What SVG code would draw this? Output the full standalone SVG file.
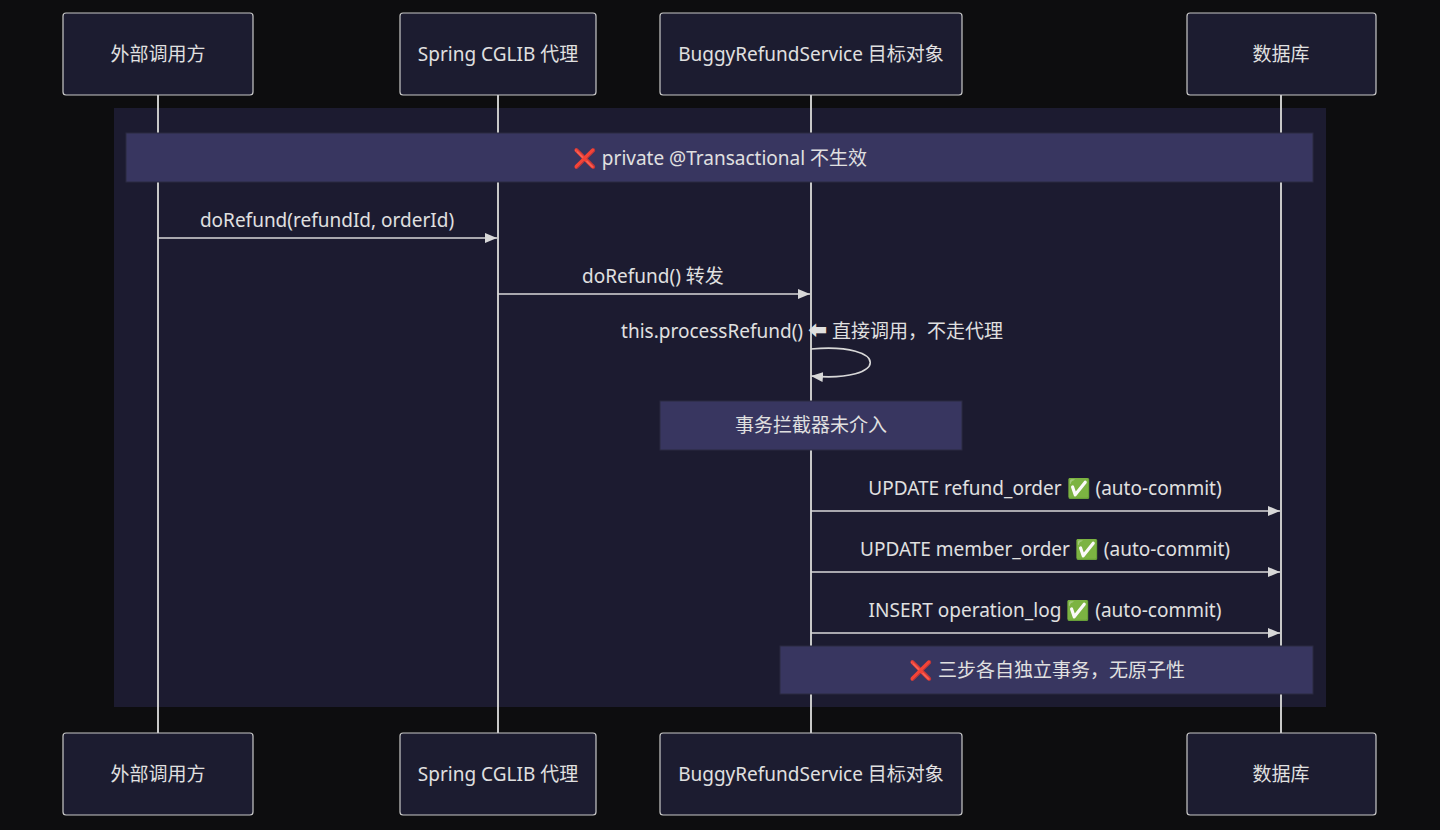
<svg xmlns="http://www.w3.org/2000/svg" width="1440" height="830" viewBox="0 0 1440 830">
<defs>
<marker id="ah" markerWidth="12" markerHeight="10" refX="12" refY="5" orient="auto" markerUnits="userSpaceOnUse"><path d="M0,0 L12,5 L0,10 z" fill="#d8d8d8"/></marker>
<style>
text{font-family:"Noto Sans","Noto Sans CJK SC",sans-serif;fill:#e0e0e0;font-size:19px;text-anchor:middle;dominant-baseline:central}
.actor{fill:#1c1c30;stroke:#c8c8c8;stroke-width:1.2}
.life{stroke:#c8c8c8;stroke-width:2}
.msg{stroke:#d8d8d8;stroke-width:1.6;fill:none}
.note{fill:#383660;stroke:#2a2a40;stroke-width:1}
</style>
</defs>
<rect width="1440" height="830" fill="#0d0d0f"/>
<rect x="114" y="108" width="1212" height="599" fill="#1c1b30"/>
<g id="lifelines">
<line class="life" x1="158" y1="95" x2="158" y2="733"/>
<line class="life" x1="498" y1="95" x2="498" y2="733"/>
<line class="life" x1="811" y1="95" x2="811" y2="733"/>
<line class="life" x1="1281" y1="95" x2="1281" y2="733"/>
</g>
<g id="note1"><rect class="note" x="126" y="133" width="1187" height="49"/><text x="720" y="158">❌ private @Transactional 不生效</text></g>
<g id="connectors">
<line class="msg" x1="158" y1="238" x2="497" y2="238" marker-end="url(#ah)"/>
<text x="327" y="220">doRefund(refundId, orderId)</text>
<line class="msg" x1="498" y1="294" x2="810" y2="294" marker-end="url(#ah)"/>
<text x="653" y="276">doRefund() 转发</text>
<path class="msg" d="M811,349 C890,342 890,383 811,376" marker-end="url(#ah)"/>
<text x="812" y="331">this.processRefund() ⬅ 直接调用，不走代理</text>
<line class="msg" x1="811" y1="511" x2="1280" y2="511" marker-end="url(#ah)"/>
<text x="1045" y="488">UPDATE refund_order ✅ (auto-commit)</text>
<line class="msg" x1="811" y1="572" x2="1280" y2="572" marker-end="url(#ah)"/>
<text x="1045" y="549">UPDATE member_order ✅ (auto-commit)</text>
<line class="msg" x1="811" y1="633" x2="1280" y2="633" marker-end="url(#ah)"/>
<text x="1045" y="610">INSERT operation_log ✅ (auto-commit)</text>
</g>
<g id="note2"><rect class="note" x="660" y="401" width="302" height="49"/><text x="811" y="425">事务拦截器未介入</text></g>
<g id="note3"><rect class="note" x="780" y="646" width="533" height="48"/><text x="1047" y="670">❌ 三步各自独立事务，无原子性</text></g>
<g id="a1"><rect class="actor" x="63" y="13" width="190" height="82" rx="3"/><text x="158" y="54">外部调用方</text></g>
<g id="a2"><rect class="actor" x="400" y="13" width="196" height="82" rx="3"/><text x="498" y="54">Spring CGLIB 代理</text></g>
<g id="a3"><rect class="actor" x="660" y="13" width="302" height="82" rx="3"/><text x="811" y="54">BuggyRefundService 目标对象</text></g>
<g id="a4"><rect class="actor" x="1187" y="13" width="189" height="82" rx="3"/><text x="1281" y="54">数据库</text></g>
<g id="a1b"><rect class="actor" x="63" y="733" width="190" height="82" rx="3"/><text x="158" y="774">外部调用方</text></g>
<g id="a2b"><rect class="actor" x="400" y="733" width="196" height="82" rx="3"/><text x="498" y="774">Spring CGLIB 代理</text></g>
<g id="a3b"><rect class="actor" x="660" y="733" width="302" height="82" rx="3"/><text x="811" y="774">BuggyRefundService 目标对象</text></g>
<g id="a4b"><rect class="actor" x="1187" y="733" width="189" height="82" rx="3"/><text x="1281" y="774">数据库</text></g>
</svg>
